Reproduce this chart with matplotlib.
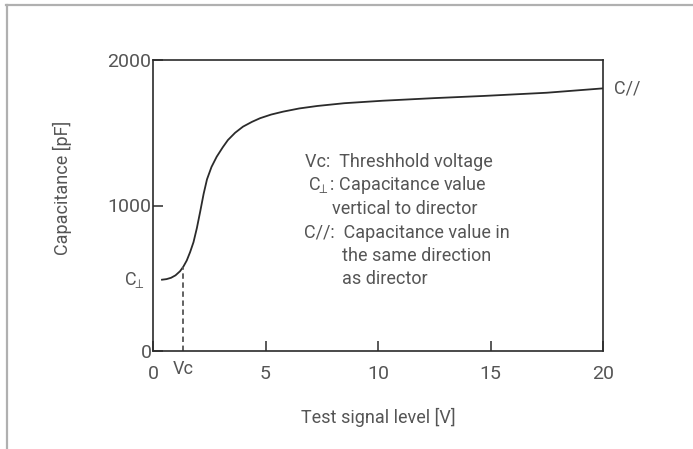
import matplotlib
matplotlib.use("Agg")
import matplotlib.pyplot as plt
from matplotlib.lines import Line2D

plt.rcParams['font.family'] = ['Roboto', 'DejaVu Sans']

# Capacitance vs. test signal level
voltage = [0.4, 0.6, 0.8, 1.0, 1.2, 1.35, 1.5, 1.65, 1.8, 1.95, 2.1, 2.25,
           2.4, 2.6, 2.83, 3.1, 3.33, 3.65, 4.0, 4.4, 4.76, 5.25, 5.78, 6.5,
           7.3, 8.5, 10.2, 12.5, 14.7, 17.5, 20]
capacitance = [490, 494, 503, 520, 548, 580, 622, 680, 748, 845, 960, 1080,
               1180, 1265, 1335, 1400, 1450, 1500, 1542, 1575, 1600, 1625,
               1645, 1667, 1684, 1703, 1720, 1738, 1753, 1775, 1805]
vc = 1.35
vc_cap = 580

x_ticks = [0, 5, 10, 15, 20]
y_ticks = [0, 1000, 2000]

notes = [
    ("Vc:  Threshhold voltage", 0),
    (r"C$_{\!\!\perp}$: Capacitance value", 0.5),
    ("vertical to director", 5.5),
    ("C//:  Capacitance value in", -0.2),
    ("the same direction", 7.4),
    ("as director", 7.4),
]

txt = '#555555'
ink = '#2b2b2b'

fig = plt.figure(figsize=(6.93, 4.49), dpi=100)
ax = fig.add_axes([153 / 693, 1 - 351 / 449, 450 / 693, 291 / 449])

ax.plot(voltage, capacitance, color=ink, lw=1.3)
ax.plot([vc, vc], [0, vc_cap], color='#555555', lw=1.3, ls=(0, (3, 2)))

ax.set_xlim(0, 20)
ax.set_ylim(0, 2000)
ax.set_xticks(x_ticks)
ax.set_yticks(y_ticks)
ax.tick_params(axis='both', direction='in', length=7, width=1.1, color=ink,
               labelsize=14, labelcolor=txt)
ax.tick_params(axis='x', pad=10)
ax.tick_params(axis='y', pad=1)
for s in ax.spines.values():
    s.set_color(ink)
    s.set_linewidth(1.2)

ax.set_xlabel('Test signal level [V]', fontsize=13, color=txt)
ax.xaxis.set_label_coords(0.5, -0.195)
ax.set_ylabel('Capacitance [pF]', fontsize=13, color=txt)
ax.yaxis.set_label_coords(-0.18, 0.56)

# annotations
ax.text(vc, -60, 'Vc', ha='center', va='top', fontsize=13, color=txt)
ax.text(-0.4, 490, r'C$_{\!\!\perp}$', ha='right', va='center', fontsize=13, color=txt)
ax.text(20.5, 1805, 'C//', ha='left', va='center', fontsize=13, color=txt)

y0 = 162
for i, (line, dx) in enumerate(notes):
    fig.text((305 + dx * 5) / 693, 1 - (y0 + i * 23.5) / 449, line,
             ha='left', va='center', fontsize=13, color=txt)

# outer frame (top and left)
fig.add_artist(Line2D([6 / 693, 1], [1 - 5 / 449, 1 - 5 / 449], color='#b0b0b0', lw=1.6))
fig.add_artist(Line2D([7 / 693, 7 / 693], [0, 1 - 5 / 449], color='#b0b0b0', lw=1.6))

fig.savefig('out.png', dpi=100)
